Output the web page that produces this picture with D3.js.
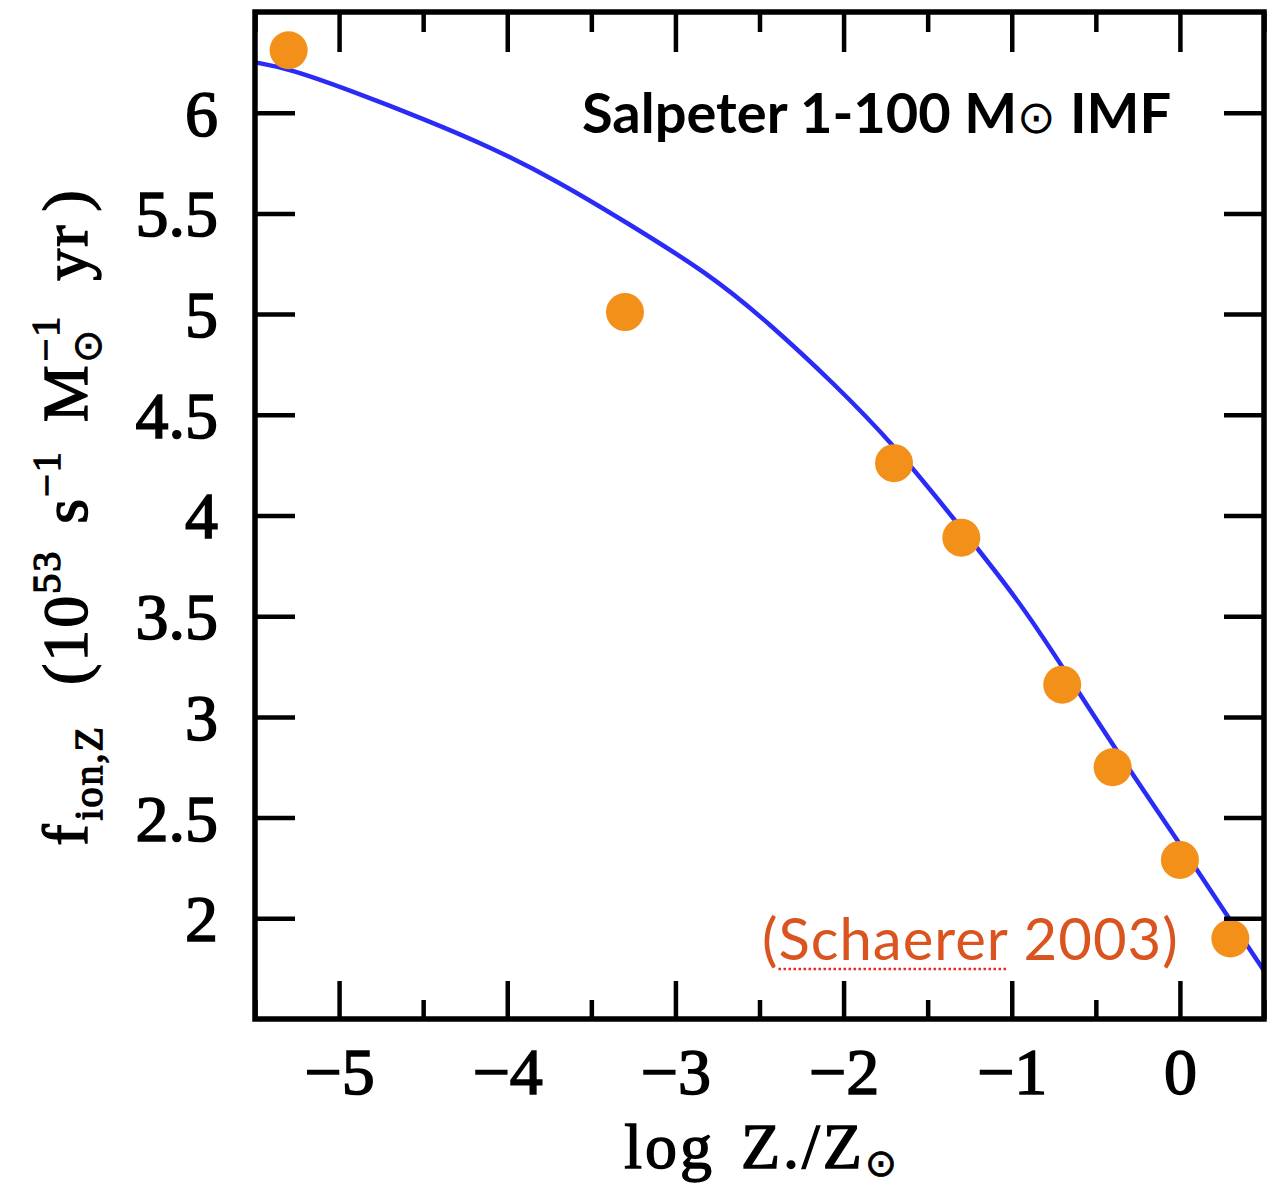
<!DOCTYPE html>
<html>
<head>
<meta charset="utf-8">
<script src="https://cdn.jsdelivr.net/npm/d3@7"></script>
<style>
  html, body { margin: 0; padding: 0; background: #fff; }
  svg { display: block; }
  .tick text { font-family: "Liberation Serif", serif; fill: #000; stroke: #000; stroke-width: 1.6px; }
</style>
</head>
<body>
<div id="chart"></div>
<script>
// Schaerer (2003) model points: log Z*/Zsun and f_ion,Z (1e53 s^-1 Msun^-1 yr)
const logZ = [-5.3, -3.3, -1.7, -1.3, -0.7, -0.4, 0.0, 0.3];
const fIon = [6.31, 5.01, 4.26, 3.89, 3.16, 2.75, 2.29, 1.90];

// fitted curve
const curveX = [-5.5, -5.3, -4.9, -4.5, -4.1, -3.7, -3.3, -2.8, -2.45, -2.05, -1.7, -1.35, -0.95, -0.7, -0.4, 0.0, 0.3, 0.5];
const curveY = [6.25, 6.22, 6.10, 5.97, 5.83, 5.66, 5.46, 5.20, 4.96, 4.65, 4.35, 3.99, 3.57, 3.25, 2.86, 2.37, 1.99, 1.74];

const xMajor = [-5, -4, -3, -2, -1, 0];
const xMinor = [-5.5, -4.5, -3.5, -2.5, -1.5, -0.5, 0.5];
const xTickLabels = ["\u22125", "\u22124", "\u22123", "\u22122", "\u22121", "0"];
const yTicks = [2, 2.5, 3, 3.5, 4, 4.5, 5, 5.5, 6];
const yTickLabels = ["2", "2.5", "3", "3.5", "4", "4.5", "5", "5.5", "6"];

const W = 1267, H = 1189;
const margin = { top: 12, right: 3, bottom: 170, left: 255 };

const svg = d3.select("#chart").append("svg")
  .attr("width", W)
  .attr("height", H);

const x = d3.scaleLinear().domain([-5.5, 0.5]).range([margin.left, W - margin.right]);
const y = d3.scaleLinear().domain([1.5, 6.5]).range([H - margin.bottom, margin.top]);

const pLeft = x.range()[0], pRight = x.range()[1];
const pTop = y.range()[1], pBottom = y.range()[0];

// curve
const line = d3.line()
  .x((d, i) => x(curveX[i]))
  .y((d, i) => y(curveY[i]))
  .curve(d3.curveBasis);

svg.append("defs").append("clipPath").attr("id", "clip")
  .append("rect").attr("x", pLeft).attr("y", pTop)
  .attr("width", pRight - pLeft).attr("height", pBottom - pTop);

svg.append("path")
  .datum(curveX)
  .attr("clip-path", "url(#clip)")
  .attr("d", line)
  .attr("fill", "none")
  .attr("stroke", "#2b2bf8")
  .attr("stroke-width", 4.5);

// points
svg.append("g")
  .selectAll("circle")
  .data(logZ)
  .join("circle")
  .attr("cx", (d) => x(d))
  .attr("cy", (d, i) => y(fIon[i]))
  .attr("r", 19)
  .attr("fill", "#f39019");

// axes (inward ticks)
const styleAxis = (g) => {
  g.select(".domain").remove();
  g.selectAll(".tick line").attr("stroke", "#000").attr("stroke-width", 4.5);
};

svg.append("g")
  .attr("transform", `translate(0,${pBottom})`)
  .call(d3.axisBottom(x).tickValues(xMajor).tickSize(-38)
    .tickFormat((d, i) => xTickLabels[i]))
  .call(styleAxis)
  .call((g) => g.selectAll(".tick text")
    .attr("y", 53).attr("dy", "0.34em")
    .style("font-size", "66px"));

svg.append("g")
  .attr("transform", `translate(0,${pBottom})`)
  .call(d3.axisBottom(x).tickValues(xMinor).tickSize(-19).tickFormat(""))
  .call(styleAxis);

svg.append("g")
  .attr("transform", `translate(0,${pTop})`)
  .call(d3.axisTop(x).tickValues(xMajor).tickSize(-40).tickFormat(""))
  .call(styleAxis);

svg.append("g")
  .attr("transform", `translate(0,${pTop})`)
  .call(d3.axisTop(x).tickValues(xMinor).tickSize(-20).tickFormat(""))
  .call(styleAxis);

svg.append("g")
  .attr("transform", `translate(${pLeft},0)`)
  .call(d3.axisLeft(y).tickValues(yTicks).tickSize(-40)
    .tickFormat((d, i) => yTickLabels[i]))
  .call(styleAxis)
  .call((g) => g.selectAll(".tick text")
    .attr("x", -37).attr("dy", "0.34em")
    .style("font-size", "66px"));

svg.append("g")
  .attr("transform", `translate(${pRight},0)`)
  .call(d3.axisRight(y).tickValues(yTicks).tickSize(-40).tickFormat(""))
  .call(styleAxis);

// frame
svg.append("rect")
  .attr("x", pLeft).attr("y", pTop)
  .attr("width", pRight - pLeft).attr("height", pBottom - pTop)
  .attr("fill", "none")
  .attr("stroke", "#000")
  .attr("stroke-width", 5.5);

// x axis title
const xt = svg.append("text")
  .attr("x", 762).attr("y", 1168)
  .attr("text-anchor", "middle")
  .style("font-family", "'Liberation Serif', serif")
  .style("font-size", "64px")
  .style("letter-spacing", "3px")
  .attr("fill", "#000").attr("stroke", "#000").attr("stroke-width", 1.4);
xt.append("tspan").text("log");
xt.append("tspan").attr("dx", 26).text("Z.");
xt.append("tspan").text("/Z");
xt.append("tspan").attr("dy", 8).style("font-size", "38px").attr("stroke-width", 0.8).text("\u2299");

// y axis title
const yt = svg.append("text")
  .attr("transform", "translate(87,517) rotate(-90)")
  .attr("text-anchor", "middle")
  .style("font-family", "'Liberation Serif', serif")
  .style("font-size", "64px")
  .style("letter-spacing", "2px")
  .attr("fill", "#000").attr("stroke", "#000").attr("stroke-width", 1.4);
yt.append("tspan").text("f");
yt.append("tspan").attr("dx", 2).attr("dy", 15).style("font-size", "40px").text("ion,Z");
yt.append("tspan").attr("dx", 40).attr("dy", -15).text("(10");
yt.append("tspan").attr("dy", -27).style("font-size", "40px").text("53");
yt.append("tspan").attr("dx", 26).attr("dy", 27).text("s");
yt.append("tspan").attr("dy", -27).style("font-size", "40px").text("\u22121");
yt.append("tspan").attr("dx", 28).attr("dy", 27).text("M");
yt.append("tspan").attr("dy", 14).style("font-size", "40px").attr("stroke-width", 0.8).text("\u2299");
yt.append("tspan").attr("dx", -34).attr("dy", -42).style("font-size", "40px").text("\u22121");
yt.append("tspan").attr("dx", 34).attr("dy", 28).text("yr");
yt.append("tspan").attr("dx", 12).text(")");

// annotations
const title = svg.append("text")
  .attr("x", 582).attr("y", 133)
  .style("font-family", "Lato, sans-serif")
  .style("font-weight", 700)
  .style("font-size", "56px")
  .attr("fill", "#000");
title.append("tspan").text("Salpeter 1-100 M");
title.append("tspan").style("font-weight", 400).style("font-size", "46px").text("\u2299");
title.append("tspan").text(" IMF");

const cite = svg.append("text")
  .attr("x", 762).attr("y", 960)
  .style("font-family", "Lato, sans-serif")
  .style("font-size", "58px")
  .style("letter-spacing", "1px")
  .attr("fill", "#d9541e");
cite.append("tspan").text("(");
cite.append("tspan").text("Schaerer");
cite.append("tspan").text(" 2003)");

// red dotted spell-check underline below "Schaerer"
const node = cite.node();
const ux0 = node.getStartPositionOfChar(1).x;
const ux1 = node.getEndPositionOfChar(8).x;
svg.append("line")
  .attr("x1", ux0).attr("x2", ux1)
  .attr("y1", 969).attr("y2", 969)
  .attr("stroke", "#e8282a")
  .attr("stroke-width", 2.5)
  .attr("stroke-dasharray", "2.5,2.5");
</script>
</body>
</html>
